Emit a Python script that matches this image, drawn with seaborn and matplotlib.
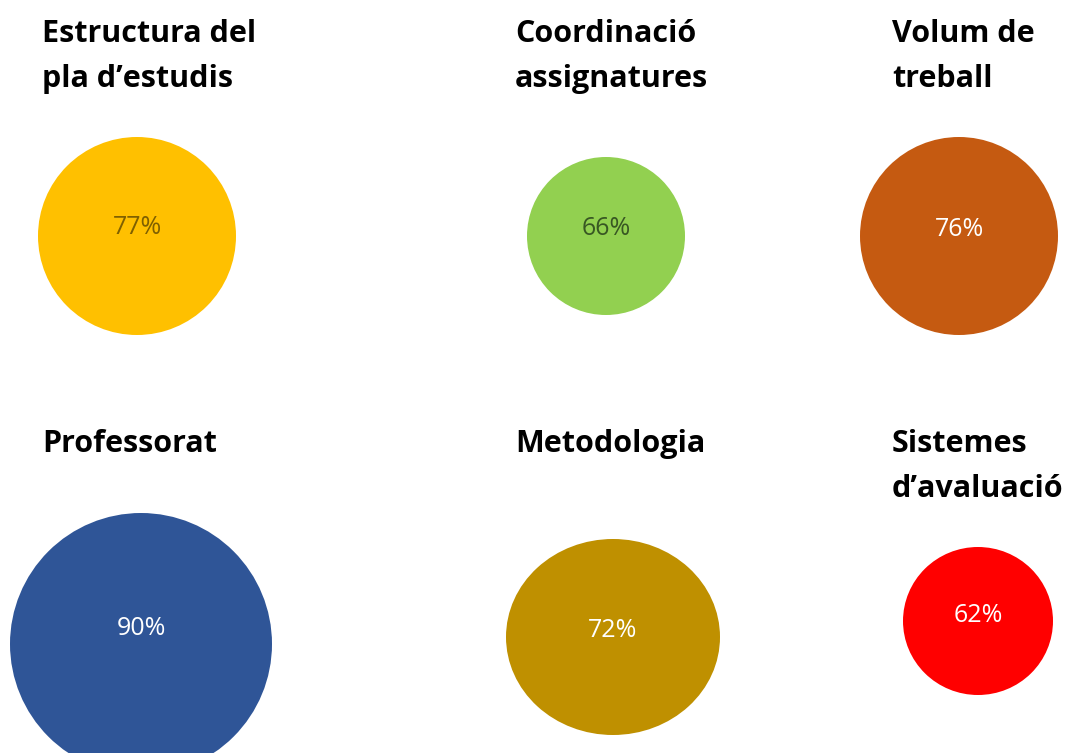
import seaborn as sns
import matplotlib.pyplot as plt
from matplotlib.patches import Ellipse

# data
titles = ["Estructura del\npla d\u2019estudis", "Coordinaci\u00f3\nassignatures", "Volum de\ntreball",
          "Professorat", "Metodologia", "Sistemes\nd\u2019avaluaci\u00f3"]
values = [77, 66, 76, 90, 72, 62]
colors = ["#FFC000", "#92D050", "#C55A11", "#2F5597", "#BF9000", "#FF0000"]
label_colors = ["#7F6000", "#385723", "white", "white", "white", "white"]

# layout (pixel space of the 1073x753 image)
cx = [137, 606, 959, 141, 613, 978]
cy = [236, 236, 236, 644, 637, 621]
w = [198, 158, 198, 262, 214, 150]
h = [198, 158, 198, 262, 196, 148]
label_base = [234, 235, 236, 635, 637, 622]
title_x = [42, 515, 892, 42, 515, 892]
title_base = [42, 42, 42, 452, 452, 452]

sns.set_theme(style="white")
plt.rcParams['font.family'] = ['Open Sans', 'DejaVu Sans']

fig = plt.figure(figsize=(10.73, 7.53), dpi=100)
ax = fig.add_axes([0, 0, 1, 1])
ax.set_xlim(0, 1073)
ax.set_ylim(753, 0)
ax.axis("off")

for i in range(len(values)):
    ax.add_patch(Ellipse((cx[i], cy[i]), w[i], h[i], facecolor=colors[i], edgecolor="none"))
    ax.text(cx[i], label_base[i], f"{values[i]}%", color=label_colors[i], fontsize=18,
            ha="center", va="baseline")
    for j, line in enumerate(titles[i].split("\n")):
        ax.text(title_x[i], title_base[i] + 45 * j, line, fontsize=22, fontweight="bold",
                color="black", ha="left", va="baseline")

fig.savefig("out.png", dpi=100)
